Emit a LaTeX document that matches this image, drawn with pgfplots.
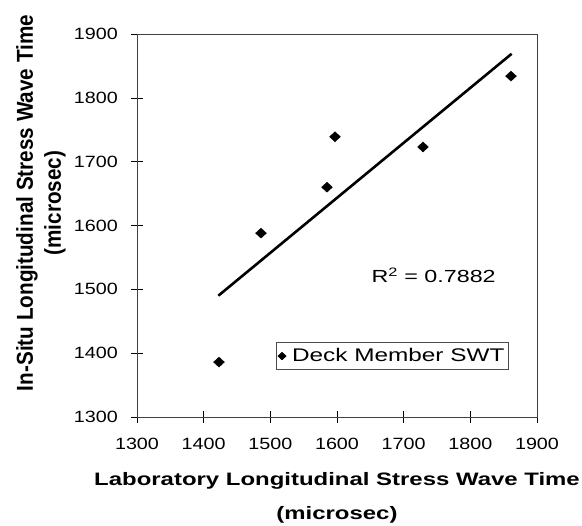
\documentclass[border=0pt]{standalone}
\usepackage{fontspec}
\setmainfont{Liberation Sans}
\newfontfamily\tickfont{Liberation Sans}[FakeStretch=1.21]
\newfontfamily\labfont{Liberation Sans}[FakeStretch=1.33]
\newfontfamily\ylabfont{Liberation Sans}[FakeStretch=0.9]
\usepackage{pgfplots}
\pgfplotsset{compat=1.18}
\begin{document}
\begin{tikzpicture}
\begin{axis}[
  scale only axis, width=400pt, height=383pt,
  xmin=1300, xmax=1900, ymin=1300, ymax=1900,
  xtick={1300,1400,...,1900}, ytick={1300,1400,...,1900},
  xtick pos=bottom, ytick pos=left,
  tick align=center, major tick length=12pt,
  every tick/.style={black, line width=0.6pt},
  axis line style={black!75, line width=0.8pt},
  /pgf/number format/.cd, 1000 sep={}, assume math mode=true,
  /pgfplots/.cd,
  xticklabel style={font=\tickfont\fontsize{16.3}{18}\selectfont, inner sep=0pt, anchor=north, yshift=-15pt},
  yticklabel style={font=\tickfont\fontsize{16.3}{18}\selectfont, inner sep=0pt, anchor=east, xshift=-13pt},
  legend style={at={(axis cs:1508,1374)}, anchor=south west, draw=black!70, line width=0.6pt,
    font=\labfont\fontsize{18.3}{18}\selectfont, inner xsep=2pt, inner ysep=4pt, row sep=0pt, column sep=4pt},
  legend cell align=left,
  legend image code/.code={\draw[#1, scale=0.75] plot coordinates {(0.78cm,0cm)};},
  clip=false,
]
\addplot[only marks, mark=diamond*, mark size=5pt, mark options={fill=black, draw=black, xscale=1.45}] coordinates {
(1423,1386) (1486,1588) (1585,1660) (1597,1739) (1729,1723) (1861,1834)
};
\addlegendentry{Deck Member SWT}
\addplot[black, line width=2.6pt, forget plot] coordinates {(1422,1490) (1862,1869)};
\node[anchor=base, font=\labfont\fontsize{17.5}{20}\selectfont, inner sep=0pt] at (axis cs:1745,1510) {R\textsuperscript{2} = 0.7882};
\end{axis}
\node[anchor=base, align=center, inner sep=0pt, font=\labfont\bfseries\fontsize{18}{34}\selectfont] at (200pt,-103pt) {Laboratory Longitudinal Stress Wave Time\\(microsec)};
\node[rotate=90, anchor=base, align=center, inner sep=0pt, font=\ylabfont\bfseries\fontsize{23}{28}\selectfont] at (-76pt,214pt) {In-Situ Longitudinal Stress Wave Time\\(microsec)};
\pgfresetboundingbox
\path[use as bounding box] (-137pt,-109pt) rectangle (445pt,417pt);
\end{tikzpicture}
\end{document}
